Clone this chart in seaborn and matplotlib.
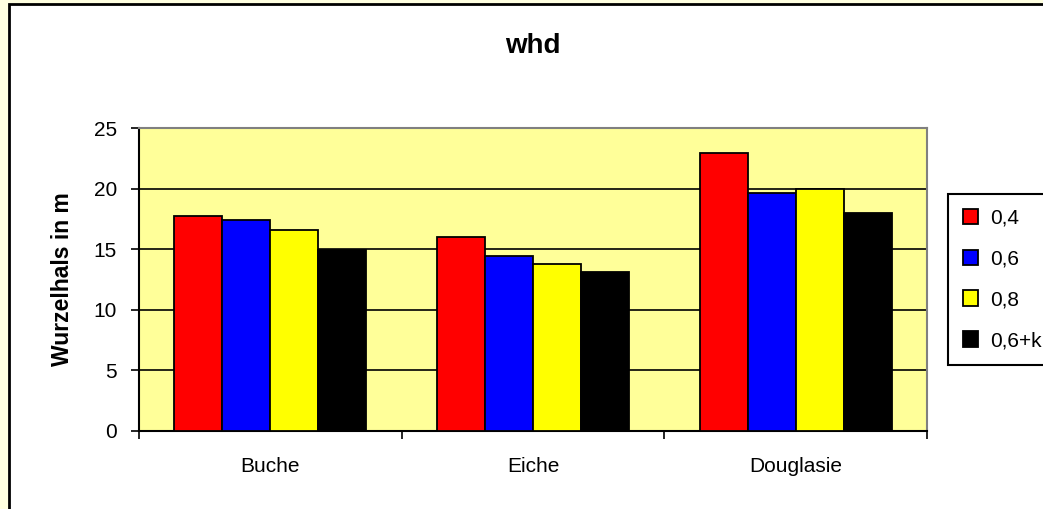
import matplotlib
matplotlib.use("Agg")
import matplotlib.pyplot as plt
import matplotlib.patches as mpatches
import seaborn as sns
import pandas as pd

# data
arten = ["Buche", "Eiche", "Douglasie"]
varianten = ["0,4", "0,6", "0,8", "0,6+k"]
werte_04 = [17.75, 16.0, 22.9]
werte_06 = [17.45, 14.45, 19.65]
werte_08 = [16.55, 13.8, 19.95]
werte_06k = [14.9, 13.15, 17.95]
farben = ["#FF0000", "#0000FF", "#FFFF00", "#000000"]

rows = []
for variante, werte in zip(varianten, [werte_04, werte_06, werte_08, werte_06k]):
    for art, w in zip(arten, werte):
        rows.append({"Art": art, "Variante": variante, "Wert": w})
df = pd.DataFrame(rows)

sns.set_style("white")
plt.rcParams["font.family"] = ["Liberation Sans", "DejaVu Sans"]
plt.rcParams["text.color"] = "black"
plt.rcParams["axes.labelcolor"] = "black"
plt.rcParams["xtick.color"] = "black"
plt.rcParams["ytick.color"] = "black"

fig = plt.figure(figsize=(10.43, 5.09), dpi=100, facecolor="#FFFFE0")
# white chart area with black frame (right/bottom run off the picture)
frame = mpatches.Rectangle((9 / 1043, -0.05), 1.1, 1 - 4 / 509 + 0.05,
                           transform=fig.transFigure, facecolor="white",
                           edgecolor="black", linewidth=2, zorder=-10)
fig.add_artist(frame)

ax = fig.add_axes([139 / 1043, 1 - 431 / 509, (927 - 139) / 1043, (431 - 128) / 509])
ax.set_zorder(1)
ax.set_facecolor("#FFFF99")

sns.barplot(data=df, x="Art", y="Wert", hue="Variante", palette=farben,
            width=0.73, saturation=1, edgecolor="black", linewidth=1.3,
            ax=ax, zorder=3)

ax.set_ylim(0, 25)
ax.set_xlim(-0.5, 2.5)
ax.set_yticks([0, 5, 10, 15, 20, 25])
ax.yaxis.grid(True, color="black", linewidth=1.2)
ax.set_axisbelow(True)

ax.tick_params(axis="y", direction="out", length=6, width=1.2, pad=10,
               labelsize=15, left=True, colors="black")
ax.tick_params(axis="x", which="major", length=0, pad=19, labelsize=15,
               colors="black")
ax.set_xticks([-0.5, 0.5, 1.5, 2.5], minor=True)
ax.tick_params(axis="x", which="minor", direction="out", length=6, width=1.2,
               bottom=True, colors="black")

for side in ["left", "bottom"]:
    ax.spines[side].set_color("black")
    ax.spines[side].set_linewidth(1.5)
for side in ["top", "right"]:
    ax.spines[side].set_visible(True)
    ax.spines[side].set_color("#808080")
    ax.spines[side].set_linewidth(1.5)

ax.set_xlabel("")
ax.set_ylabel("Wurzelhals in m", fontsize=16.5, fontweight="bold",
              labelpad=14, color="black")
ax.set_title("whd", fontsize=20, fontweight="bold", pad=54, color="black")

handles, labels = ax.get_legend_handles_labels()
leg = ax.legend(handles, labels, loc="upper left",
                bbox_to_anchor=(948 / 1043, 1 - 194 / 509),
                bbox_transform=fig.transFigure, frameon=True, fancybox=False,
                edgecolor="black", framealpha=1, fontsize=15,
                handlelength=0.75, handleheight=0.75, handletextpad=0.55,
                labelspacing=1.05, borderpad=0.7, borderaxespad=0)
leg.get_frame().set_linewidth(1.5)
for t in leg.get_texts():
    t.set_color("black")

fig.savefig("out.png", dpi=100, facecolor=fig.get_facecolor())
